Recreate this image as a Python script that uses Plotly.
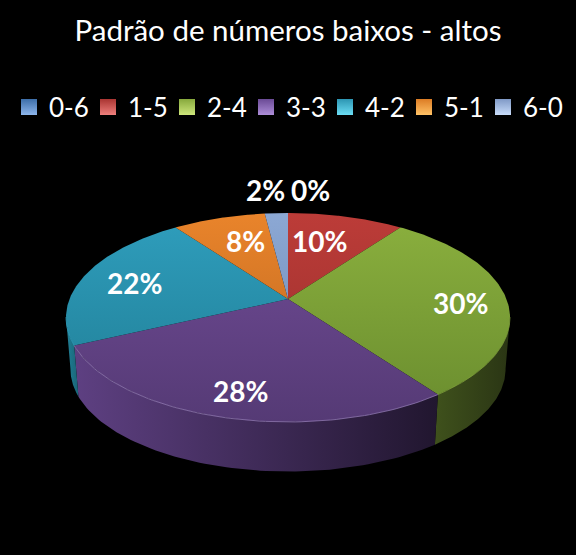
import numpy as np
import plotly.graph_objects as go

# ---- data ----
categories = ["0-6", "1-5", "2-4", "3-3", "4-2", "5-1", "6-0"]
percentages = [0, 10, 30, 28, 22, 8, 2]
chart_title = "Padrão de números baixos - altos"

# ---- styles ----
top_light = ["#4F81BD", "#BC3C38", "#8BB03E", "#714C97", "#2F9EBD", "#E9842B", "#8CA8D4"]
top_dark = ["#3B659A", "#972E2C", "#698C2E", "#553A75", "#1F7C93", "#B7641F", "#6A86AF"]
wall_left = ["#2A4468", "#5A1E1D", "#3F511C", "#5E4082", "#207F96", "#8A4A14", "#4A5D7C"]
wall_right = ["#1A2A40", "#3A1312", "#2A3514", "#21162F", "#1A6577", "#5E320E", "#323F55"]
rim = ["#6F98CC", "#C96B68", "#7E9E3A", "#9078B2", "#2F9EBD", "#E9842B", "#8CA8D4"]
swatch_top = ["#8DB6EC", "#EE7F7C", "#CDE67B", "#AD8DD8", "#6BDDF4", "#FFC165", "#C8DCFA"]
swatch_base = ["#3C6DA8", "#A93431", "#86A83C", "#6A4A95", "#2C95B2", "#DC7C24", "#7F99C6"]

# ---- projection of the tilted disc onto the canvas ----
CX, CY, A, B, K = 288.0, 299.0, 218.5, 101.2, 0.177
DROP, SHRINK = 52.0, 0.98


def project(r, theta_deg, lower=False):
    t = np.radians(theta_deg)
    d = 1 + K * r * np.cos(t)
    s = SHRINK if lower else 1.0
    off = DROP if lower else 0.0
    return CX + s * A * r * np.sin(t) / d, CY + off - s * B * r * np.cos(t) / d


edges = np.concatenate([[0], np.cumsum(percentages)]) * 3.6
fig = go.Figure()

# side walls (only the front part of the rim is visible)
FRONT_RIGHT, FRONT_LEFT = 100.0, 260.0
for i, cat in enumerate(categories):
    lo, hi = max(edges[i], FRONT_RIGHT), min(edges[i + 1], FRONT_LEFT)
    if hi <= lo:
        continue
    th = np.linspace(lo, hi, 80)
    tx, ty = project(1, th)
    bx, by = project(1, th[::-1], lower=True)
    x = np.concatenate([tx, bx, tx[:1]])
    y = np.concatenate([ty, by, ty[:1]])
    fig.add_trace(go.Scatter(
        x=x, y=y, mode="lines", line=dict(width=0), fill="toself", showlegend=False, hoverinfo="skip",
        fillgradient=dict(type="horizontal", start=float(x.min()), stop=float(x.max()),
                          colorscale=[[0, wall_left[i]], [1, wall_right[i]]]),
    ))

# top faces
TOP_Y, BOTTOM_Y = project(1, 0)[1], project(1, 180)[1]
for i, cat in enumerate(categories):
    if percentages[i] == 0:
        continue
    th = np.linspace(edges[i], edges[i + 1], 120)
    ax_, ay_ = project(1, th)
    x = np.concatenate([[CX], ax_, [CX]])
    y = np.concatenate([[CY], ay_, [CY]])
    fig.add_trace(go.Scatter(
        x=x, y=y, mode="lines", line=dict(width=0), fill="toself", showlegend=False, hoverinfo="skip",
        fillgradient=dict(type="vertical", start=float(TOP_Y), stop=float(BOTTOM_Y),
                          colorscale=[[0, top_light[i]], [1, top_dark[i]]]),
    ))

# lighter rim along the front edge
for i, cat in enumerate(categories):
    lo, hi = max(edges[i], FRONT_RIGHT), min(edges[i + 1], FRONT_LEFT)
    if hi <= lo:
        continue
    rx, ry = project(1, np.linspace(lo, hi, 80))
    fig.add_trace(go.Scatter(x=rx, y=ry, mode="lines", line=dict(width=0.8, color=rim[i]),
                             showlegend=False, hoverinfo="skip"))

# legend entries (the last one gets room for its text so the legend box does not clip it)
for i, cat in enumerate(categories):
    fig.add_trace(go.Scatter(
        x=[None], y=[None], mode="markers", name=cat,
        legendwidth=44 if i == len(categories) - 1 else None,
        marker=dict(symbol="square", size=16, color=swatch_base[i],
                    gradient=dict(type="vertical", color=swatch_top[i])),
    ))

# data labels: placed from each slice's mid-angle, with the chart's own nudges
nudges = [(22, -42), (-13, 6), (9, 4), (-1, 8), (0, 2), (11, 5), (-13, -42)]
annotations = []
for i, pct in enumerate(percentages):
    mid = (edges[i] + edges[i + 1]) / 2
    lx, ly = project(0.75, mid)
    annotations.append(dict(
        x=float(lx), y=float(ly), xref="x", yref="y", text=f"<b>{pct}%</b>", showarrow=False,
        xshift=nudges[i][0], yshift=-nudges[i][1], font=dict(family="Lato", size=28, color="white"),
    ))

fig.update_layout(
    width=576, height=555, margin=dict(l=0, r=0, t=0, b=0),
    paper_bgcolor="black", plot_bgcolor="black",
    title=dict(text=chart_title, x=0.5, xanchor="center", y=1 - 31 / 555, yanchor="middle",
               font=dict(family="Lato", size=29.5, color="white")),
    xaxis=dict(range=[0, 576], visible=False, fixedrange=True),
    yaxis=dict(range=[555, 0], visible=False, fixedrange=True),
    legend=dict(orientation="h", x=9 / 576, y=1 - 107 / 555, xanchor="left", yanchor="middle",
                font=dict(family="Lato", size=26, color="white"), bgcolor="rgba(0,0,0,0)",
                entrywidth=34, entrywidthmode="pixels", itemwidth=30, traceorder="normal"),
    annotations=annotations,
    showlegend=True,
)
fig.write_html("out.html", config=dict(displayModeBar=False),
               post_script="document.body.style.margin='0';document.body.style.background='black';")
